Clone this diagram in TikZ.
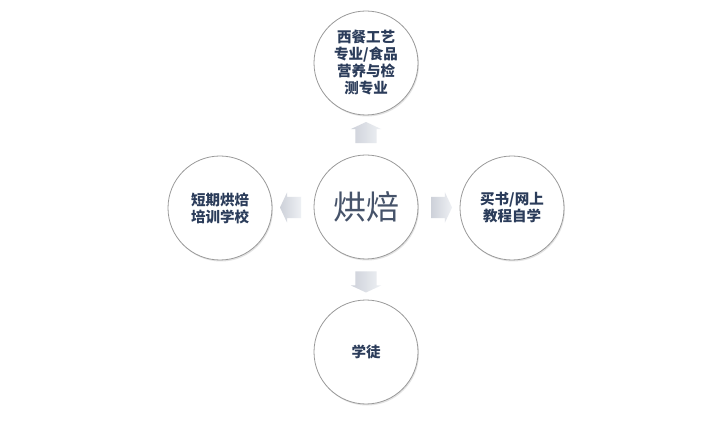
\documentclass[tikz,border=0pt]{standalone}
\usepackage{fontspec}
\newfontfamily\cjk{Noto Sans CJK SC}
\usetikzlibrary{shapes.arrows,shadows,calc}
\definecolor{txtblue}{HTML}{2B3C5A}
\definecolor{midtxt}{HTML}{46536A}
\definecolor{rimgray}{HTML}{9A9A9A}
\definecolor{arrowlight}{HTML}{EEF0F4}
\definecolor{arrowdark}{HTML}{CDD1D9}
\tikzset{
  ring/.style={circle, draw=rimgray, line width=0.8pt, fill=white, minimum size=104pt, inner sep=0pt,
    drop shadow={opacity=0.22, shadow xshift=1pt, shadow yshift=-1.5pt},
    align=center, text=txtblue, font=\cjk\bfseries\fontsize{14.5}{17}\selectfont},
  blockarrow/.style={single arrow, single arrow tip angle=130, single arrow head extend=4.5pt,
    text height=21pt, text depth=0pt, text width=0pt,
    minimum height=21pt, inner sep=0pt, draw=none,
    left color=arrowdark, right color=arrowlight}
}
\begin{document}
\begin{tikzpicture}[x=1pt,y=-1pt]
\useasboundingbox (0,0) rectangle (720,446);
\fill[white] (0,0) rectangle (720,446);
\node[ring, font=\cjk\fontsize{33}{36}\selectfont, text=midtxt] (c) at (366,207) {烘焙};
\node[ring] (t) at (366,63) {西餐工艺\\专业/食品\\营养与检\\测专业};
\node[ring] (l) at (220,208) {短期烘焙\\培训学校};
\node[ring] (r) at (512,208) {买书/网上\\教程自学};
\node[ring] (b) at (366,352) {学徒};
\node[blockarrow, rotate=90] (au) at ($(c)!0.5!(t)$) {};
\node[blockarrow, rotate=180] (al) at ($(c)!0.5!(l)$) {};
\node[blockarrow, rotate=0] (ar) at ($(c)!0.5!(r)$) {};
\node[blockarrow, rotate=-90] (ad) at ($(c)!0.5!(b)$) {};
\end{tikzpicture}
\end{document}
